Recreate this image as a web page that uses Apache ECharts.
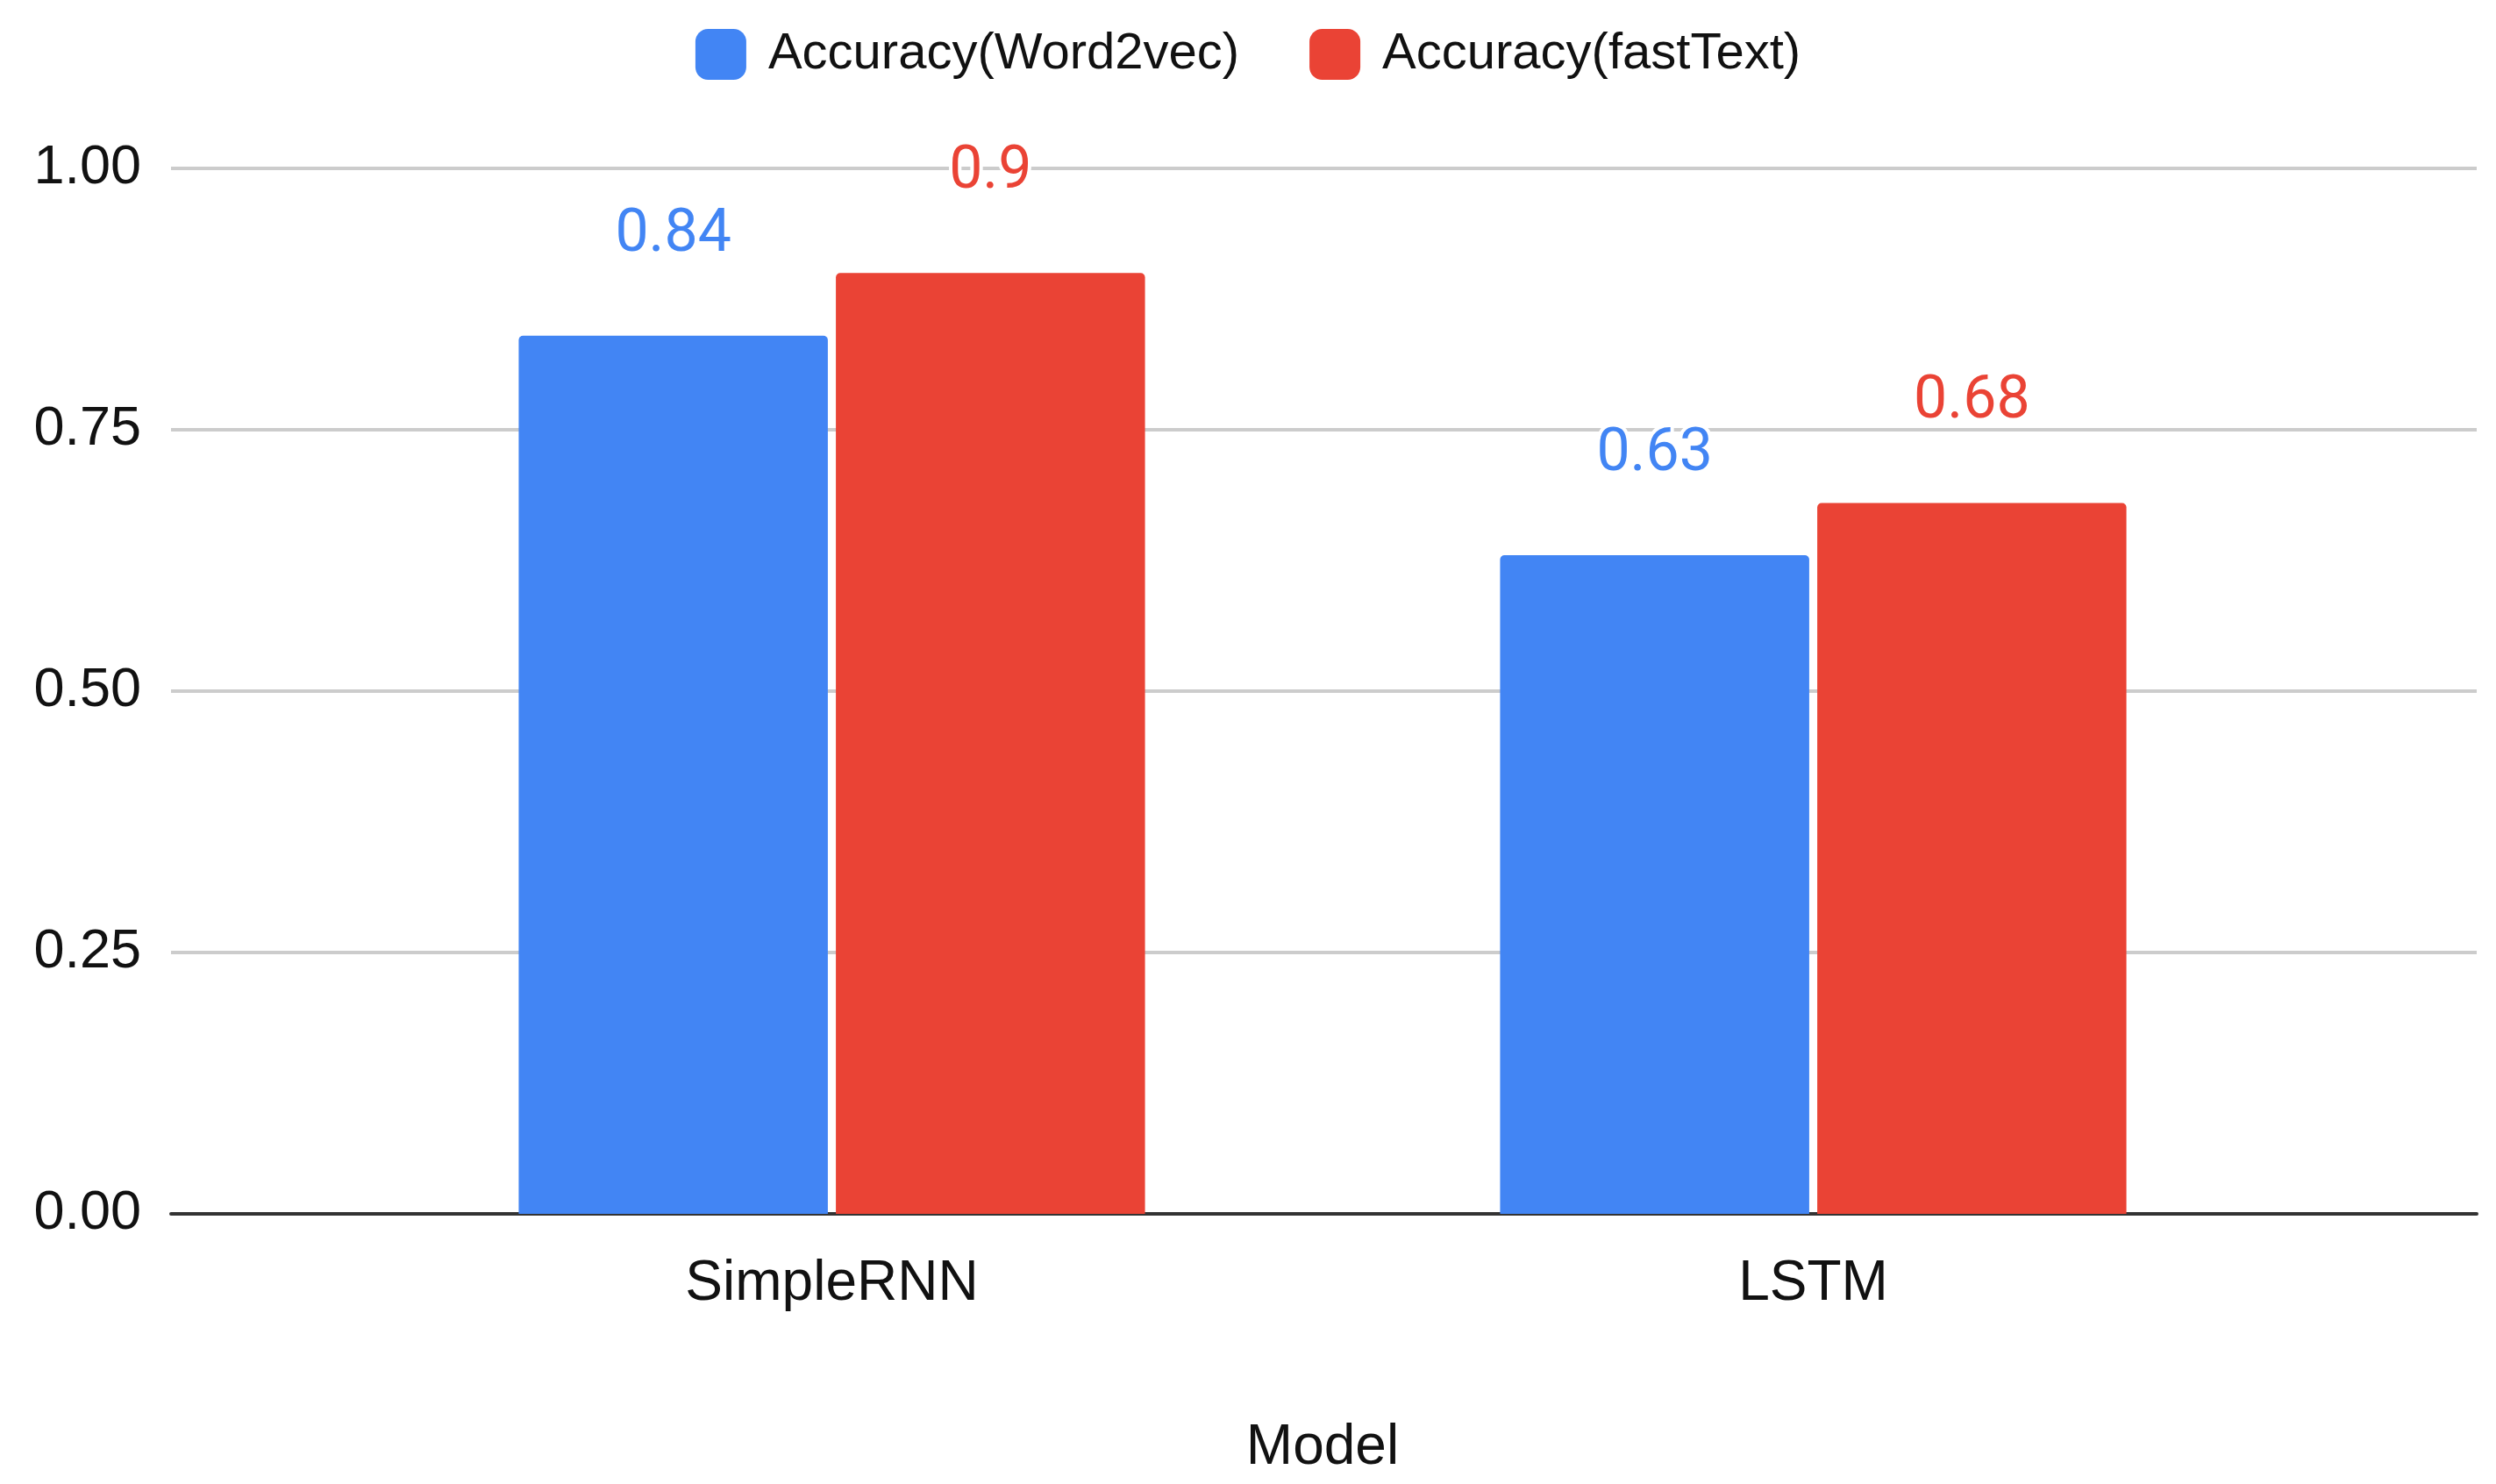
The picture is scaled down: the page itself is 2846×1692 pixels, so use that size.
<!DOCTYPE html>
<html>
<head>
<meta charset="utf-8">
<script src="https://cdn.jsdelivr.net/npm/echarts@6/dist/echarts.min.js"></script>
<style>html,body{margin:0;background:#fff}#chart{width:2846px;height:1692px}</style>
</head>
<body>
<div id="chart"></div>
<script>
const categories = ['SimpleRNN', 'LSTM'];
const word2vec = [0.84, 0.63];
const fastText = [0.9, 0.68];
const yTicks = [0, 0.25, 0.5, 0.75, 1];

const chart = echarts.init(document.getElementById('chart'));
const font = '"Liberation Sans", Arial, sans-serif';
const label = (color) => ({
  show: true, position: 'top', distance: 80, color: color,
  fontSize: 68, fontFamily: 'Roboto, sans-serif',
  textBorderColor: '#fff', textBorderWidth: 8
});
chart.setOption({
  animation: false,
  legend: {
    top: 28, left: 'center', itemWidth: 58, itemHeight: 58, itemGap: 80,
    icon: 'roundRect',
    textStyle: { fontSize: 58, fontFamily: font, color: '#111', padding: [0, 0, 0, 20] },
    data: ['Accuracy(Word2vec)', 'Accuracy(fastText)']
  },
  grid: [
    { left: 195, right: 22, top: 192, bottom: 308 },
    { left: 389, right: 219, top: 192, bottom: 308 }
  ],
  xAxis: [
    { type: 'category', gridIndex: 0, data: [''], axisTick: { show: false },
      axisLabel: { show: false },
      axisLine: { lineStyle: { color: '#333', width: 4 } } },
    { type: 'category', gridIndex: 1, data: categories,
      name: 'Model', nameLocation: 'middle', nameGap: 235,
      nameTextStyle: { fontSize: 64, fontFamily: font, color: '#111' },
      axisTick: { show: false }, axisLine: { show: false },
      axisLabel: { fontSize: 64, fontFamily: font, color: '#111', margin: 48 } }
  ],
  yAxis: [
    { type: 'value', gridIndex: 0, min: 0, max: 1, interval: 0.25,
      axisLabel: { fontSize: 63, fontFamily: font, color: '#111', margin: 34,
        formatter: v => v.toFixed(2) },
      splitLine: { lineStyle: { color: '#ccc', width: 4 } } },
    { type: 'value', gridIndex: 1, min: 0, max: 1, interval: 0.25,
      axisLabel: { show: false }, splitLine: { show: false } }
  ],
  series: [
    { name: 'Accuracy(Word2vec)', type: 'bar', xAxisIndex: 1, yAxisIndex: 1,
      data: word2vec, barWidth: '31.5%', barGap: '2.6%',
      itemStyle: { color: '#4285F4', borderRadius: [5, 5, 0, 0] }, label: label('#4285F4') },
    { name: 'Accuracy(fastText)', type: 'bar', xAxisIndex: 1, yAxisIndex: 1,
      data: fastText, barWidth: '31.5%',
      itemStyle: { color: '#EA4335', borderRadius: [5, 5, 0, 0] }, label: label('#EA4335') }
  ]
});
</script>
</body>
</html>
